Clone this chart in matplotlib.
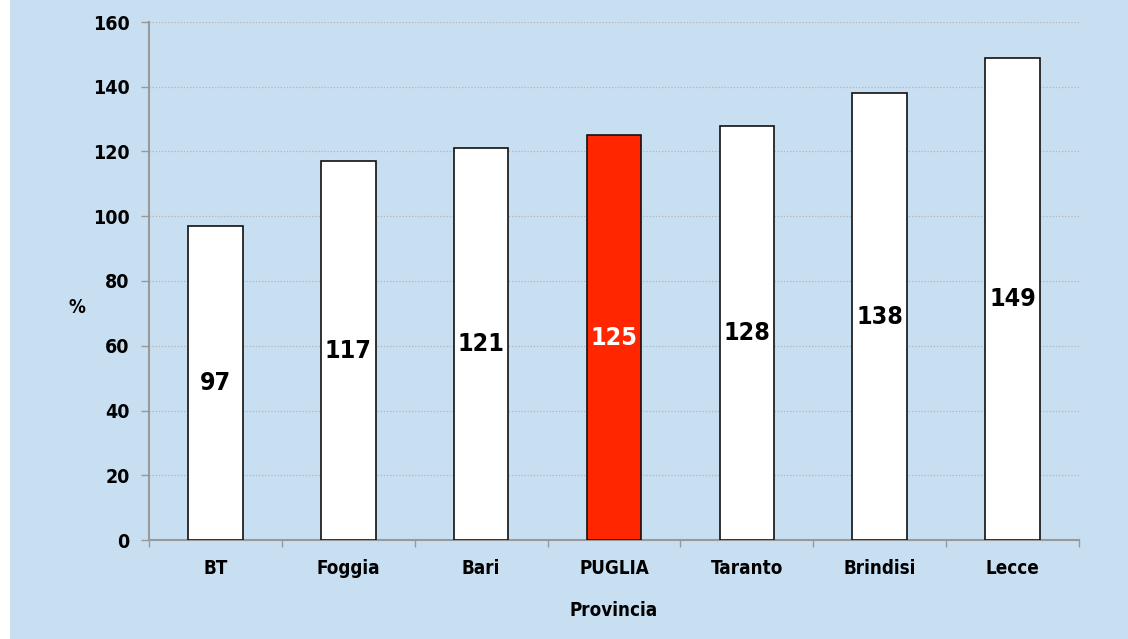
import matplotlib
matplotlib.use("Agg")
import matplotlib.pyplot as plt
from matplotlib.patches import Rectangle
from matplotlib.ticker import FixedLocator

province = ["BT", "Foggia", "Bari", "PUGLIA", "Taranto", "Brindisi", "Lecce"]
valori = [97, 117, 121, 125, 128, 138, 149]
evidenzia = "PUGLIA"

plt.rcParams['font.family'] = ['DejaVu Sans Condensed', 'Liberation Sans Narrow', 'DejaVu Sans']
plt.rcParams['font.stretch'] = 'condensed'
plt.rcParams['font.weight'] = 'bold'

sfondo = "#c8dff2"
fig = plt.figure(figsize=(11.28, 6.39), dpi=100)
fig.patch.set_facecolor("white")
# fascia bianca a sinistra, il resto azzurro
fig.patches.append(Rectangle((10 / 1128, 0), 1, 1, transform=fig.transFigure,
                             facecolor=sfondo, edgecolor="none", zorder=-10))

ax = fig.add_axes([149 / 1128, 1 - 540 / 639, 930 / 1128, 518 / 639])
ax.set_facecolor(sfondo)

x = list(range(len(province)))
colori = ["#ff2600" if p == evidenzia else "white" for p in province]
ax.bar(x, valori, width=0.41, color=colori, edgecolor="#111111",
       linewidth=1.2, zorder=3)

for xi, v, p in zip(x, valori, province):
    ax.text(xi, v / 2, str(v), ha="center", va="center", fontsize=18,
            fontweight="bold", color="white" if p == evidenzia else "black",
            zorder=4)

ax.set_xlim(-0.5, len(province) - 0.5)
ax.set_ylim(0, 160)
ax.set_yticks(range(0, 161, 20))
ax.set_xticks(x)
ax.set_xticklabels(province, fontsize=13.5, fontweight="bold")
ax.xaxis.set_minor_locator(FixedLocator([i + 0.5 for i in range(-1, len(province))]))
ax.tick_params(axis="x", which="major", length=0, pad=14)
ax.tick_params(axis="x", which="minor", length=5, color="#999999", width=1)
ax.tick_params(axis="y", length=6, color="#999999", width=1, labelsize=14, pad=8)
for lab in ax.get_yticklabels():
    lab.set_fontweight("bold")

ax.yaxis.grid(True, linestyle=(0, (1, 1.5)), color="#b4b4b4", linewidth=0.9, zorder=0)
ax.set_axisbelow(True)
for s in ["top", "right"]:
    ax.spines[s].set_visible(False)
for s in ["left", "bottom"]:
    ax.spines[s].set_color("#999999")
    ax.spines[s].set_linewidth(1.5)

ax.set_xlabel("Provincia", fontsize=13.5, fontweight="bold", labelpad=16)
ax.set_ylabel("%", fontsize=13.5, fontweight="bold", rotation=0, labelpad=0)
ax.yaxis.set_label_coords(-0.077, 0.43)

fig.savefig("out.png", dpi=100, facecolor=fig.get_facecolor())
